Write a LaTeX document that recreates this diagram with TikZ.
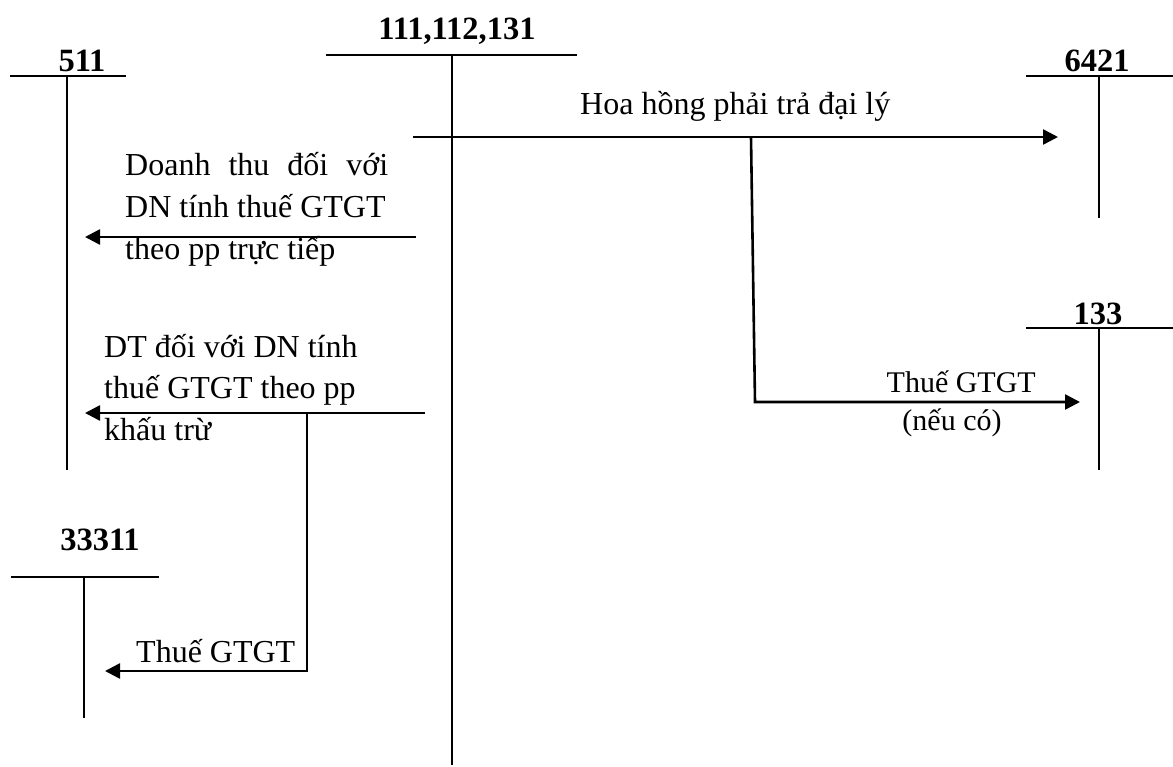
\documentclass[tikz,border=0pt]{standalone}
\usepackage{fontspec}
\setmainfont{Liberation Serif}
\usetikzlibrary{arrows.meta}
\begin{document}
\begin{tikzpicture}[x=1pt,y=-1pt,
  acct/.style={line width=1.8pt},
  flow/.style={line width=2.6pt,-{Triangle[length=15pt,width=15pt]}},
  txt/.style={inner sep=0pt,font=\fontsize{32}{42}\selectfont},
  small/.style={inner sep=0pt,font=\fontsize{30}{40}\selectfont},
  acname/.style={inner sep=0pt,font=\fontsize{32.5}{42}\selectfont\bfseries,anchor=base}]
\useasboundingbox (0,0) rectangle (1173,767);

% ---- T-accounts ----
% 111,112,131
\node[acname] (n111) at (457,40) {111,112,131};
\coordinate (h111l) at (326,55);  \coordinate (h111r) at (577,55);
\coordinate (v111t) at (452,55);  \coordinate (v111b) at (452,765);
\draw[acct] (h111l) -- (h111r);
\draw[acct] (v111t) -- (v111b);

% 511
\node[acname] (n511) at (82,72) {511};
\coordinate (h511l) at (10,76);   \coordinate (h511r) at (126,76);
\coordinate (v511t) at (67,76);   \coordinate (v511b) at (67,470);
\draw[acct] (h511l) -- (h511r);
\draw[acct] (v511t) -- (v511b);

% 6421
\node[acname] (n6421) at (1097,72) {6421};
\coordinate (h6421l) at (1026,76); \coordinate (h6421r) at (1173,76);
\coordinate (v6421t) at (1099,76); \coordinate (v6421b) at (1099,218);
\draw[acct] (h6421l) -- (h6421r);
\draw[acct] (v6421t) -- (v6421b);

% 133
\node[acname] (n133) at (1098,325) {133};
\coordinate (h133l) at (1026,328); \coordinate (h133r) at (1173,328);
\coordinate (v133t) at (1099,328); \coordinate (v133b) at (1099,470);
\draw[acct] (h133l) -- (h133r);
\draw[acct] (v133t) -- (v133b);

% 33311
\node[acname] (n33311) at (100,550) {33311};
\coordinate (h333l) at (11,577);  \coordinate (h333r) at (159,577);
\coordinate (v333t) at (84,577);  \coordinate (v333b) at (84,718);
\draw[acct] (h333l) -- (h333r);
\draw[acct] (v333t) -- (v333b);

% ---- Commission to agent ----
\coordinate (hoaS) at (413,137);
\coordinate (hoaE) at (1058,137);
\coordinate (hoaJ) at (751,137);
\coordinate (vatJ) at (755,402);
\coordinate (vatE) at (1080,402);
\draw[flow] (hoaS) -- (hoaE);
\draw[flow] (hoaJ) -- (vatJ) -- (vatE);
\node[txt,anchor=base west] (lhoa) at (580,115) {Hoa hồng phải trả đại lý};
\node[small,anchor=base east] (lvat1) at (1036,392) {Thuế GTGT};
\node[small,anchor=base] (lvat2) at (952,430) {(nếu có)};

% ---- Revenue, direct method ----
\coordinate (dtS) at (416,237);
\coordinate (dtE) at (85,237);
\draw[flow] (dtS) -- (dtE);
\node[txt,anchor=base west] (ld1) at (125,176) {\makebox[263pt][s]{Doanh thu đối với}};
\node[txt,anchor=base west] (ld2) at (125,218) {DN tính thuế GTGT};
\node[txt,anchor=base west] (ld3) at (125,260) {theo pp trực tiếp};

% ---- Revenue, deduction method ----
\coordinate (ktS) at (425,413);
\coordinate (ktE) at (85,413);
\coordinate (ktJ) at (307,413);
\coordinate (ktB) at (307,671);
\coordinate (ktT) at (105,671);
\draw[flow] (ktS) -- (ktE);
\draw[flow] (ktJ) -- (ktB) -- (ktT);
\node[txt,anchor=base west] (lk1) at (104,357) {DT đối với DN tính};
\node[txt,anchor=base west] (lk2) at (104,399) {thuế GTGT theo pp};
\node[txt,anchor=base west] (lk3) at (104,440) {khấu trừ};
\node[txt,anchor=base west] (lkv) at (136,662) {Thuế GTGT};
\end{tikzpicture}
\end{document}
